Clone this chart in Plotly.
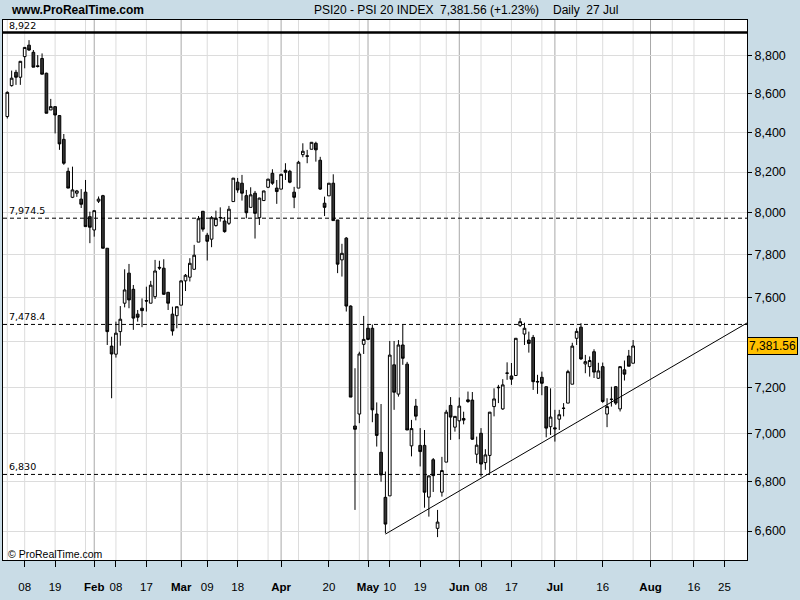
import math
import pandas as pd
import plotly.graph_objects as go

# ---------------- data ----------------
holidays = ["2010-04-02", "2010-04-05"]
calendar = [d.strftime("%Y-%m-%d") for d in pd.bdate_range("2010-01-04", "2010-08-31")
            if d.strftime("%Y-%m-%d") not in holidays]
session_dates = calendar[:145]

open_ = [8480, 8640, 8710, 8684, 8793, 8854, 8816, 8744, 8783, 8705,
         8514, 8531, 8485, 8364, 8204, 8076, 8096, 8067, 8101, 7982,
         7918, 8057, 8084, 7831, 7381, 7345, 7446, 7575, 7714, 7639,
         7525, 7552, 7587, 7575, 7605, 7741, 7737, 7625, 7525, 7518,
         7566, 7678, 7695, 7732, 7860, 8008, 7893, 7874, 7939, 7977,
         7961, 7950, 8055, 8150, 8145, 8084, 8027, 8096, 7977, 8060,
         8125, 8194, 8121, 8116, 8209, 8204, 8101, 8121, 8287, 8281,
         8314, 8344, 8259, 8047, 8083, 8145, 7966, 7776, 7879, 7562,
         7033, 7084, 7389, 7461, 7461, 7084, 6922, 6736, 6742, 7298,
         7170, 7386, 7301, 6949, 7118, 6951, 6951, 6737, 6891, 6611,
         6757, 6881, 7121, 7028, 7055, 7065, 7145, 7144, 6914, 7002,
         6879, 6909, 7116, 7200, 7106, 7262, 7249, 7251, 7473, 7435,
         7408, 7420, 7225, 7243, 7202, 7030, 7025, 7062, 7108, 7131,
         7213, 7416, 7466, 7302, 7290, 7356, 7239, 7290, 7084, 7148,
         7202, 7106, 7276, 7337, 7305]
high = [8610, 8719, 8723, 8770, 8844, 8881, 8828, 8801, 8810, 8708,
        8571, 8531, 8488, 8391, 8222, 8227, 8112, 8116, 8161, 8006,
        8011, 8080, 8088, 7831, 7423, 7491, 7562, 7732, 7757, 7659,
        7544, 7597, 7651, 7678, 7776, 7772, 7779, 7627, 7559, 7559,
        7680, 7710, 7784, 7847, 7985, 8009, 7904, 7985, 8011, 8027,
        7980, 8034, 8171, 8171, 8186, 8112, 8125, 8107, 8074, 8108,
        8167, 8214, 8161, 8190, 8244, 8211, 8127, 8256, 8344, 8311,
        8350, 8352, 8276, 8079, 8146, 8189, 7966, 7852, 7884, 7565,
        7283, 7356, 7517, 7478, 7478, 7134, 7127, 6842, 7404, 7404,
        7408, 7476, 7311, 7059, 7149, 7024, 7016, 6826, 6898, 6685,
        6903, 7102, 7157, 7075, 7155, 7094, 7181, 7179, 6988, 7024,
        6935, 7093, 7195, 7210, 7235, 7309, 7306, 7417, 7507, 7486,
        7446, 7431, 7254, 7268, 7203, 7195, 7102, 7102, 7131, 7276,
        7396, 7461, 7484, 7342, 7335, 7367, 7307, 7308, 7152, 7202,
        7205, 7291, 7317, 7364, 7408]
low = [8470, 8635, 8644, 8644, 8731, 8824, 8737, 8735, 8700, 8497,
       8514, 8394, 8311, 8236, 8121, 8072, 8078, 8024, 7934, 7855,
       7886, 8048, 7831, 7386, 7152, 7330, 7383, 7556, 7552, 7454,
       7491, 7466, 7537, 7575, 7594, 7729, 7613, 7544, 7428, 7461,
       7566, 7631, 7675, 7729, 7860, 7910, 7773, 7836, 7934, 7958,
       7905, 7942, 8055, 8098, 8060, 7974, 8027, 7877, 7942, 8058,
       8121, 8137, 8044, 8116, 8161, 8145, 8023, 8121, 8274, 8244,
       8314, 8252, 8112, 7985, 8083, 7963, 7714, 7698, 7537, 7157,
       6685, 7045, 7346, 7408, 7049, 6946, 6800, 6591, 6742, 7102,
       7159, 7298, 7016, 6905, 7057, 6863, 6694, 6658, 6758, 6576,
       6739, 6881, 6974, 7009, 6977, 7040, 7132, 6974, 6877, 6821,
       6849, 6835, 7074, 7131, 7102, 7232, 7210, 7251, 7467, 7386,
       7352, 7188, 7171, 7165, 6985, 6995, 6967, 7016, 7074, 7131,
       7213, 7386, 7320, 7261, 7246, 7240, 7236, 7132, 7028, 7116,
       7123, 7095, 7229, 7294, 7305]
close = [8605, 8679, 8684, 8768, 8842, 8828, 8737, 8741, 8700, 8497,
         8531, 8488, 8341, 8244, 8121, 8112, 8107, 8042, 7934, 7931,
         8011, 8067, 7831, 7446, 7346, 7439, 7502, 7636, 7590, 7507,
         7511, 7541, 7585, 7658, 7724, 7738, 7616, 7575, 7449, 7559,
         7678, 7704, 7760, 7798, 7972, 7922, 7864, 7977, 7974, 7978,
         7910, 8018, 8170, 8112, 8096, 8001, 8088, 7998, 8072, 8107,
         8165, 8145, 8104, 8189, 8199, 8150, 8076, 8249, 8304, 8279,
         8349, 8311, 8116, 8027, 8145, 7963, 7756, 7807, 7562, 7157,
         7019, 7346, 7411, 7411, 7102, 6993, 6828, 6628, 7341, 7178,
         7386, 7327, 7016, 7022, 7075, 6925, 6757, 6824, 6825, 6636,
         6846, 7092, 7071, 7074, 7118, 7058, 7138, 6977, 6952, 6873,
         6911, 7092, 7149, 7198, 7210, 7261, 7235, 7416, 7491, 7461,
         7393, 7224, 7223, 7217, 7024, 7071, 7021, 7081, 7109, 7268,
         7381, 7447, 7324, 7312, 7317, 7266, 7271, 7138, 7116, 7147,
         7131, 7290, 7257, 7292, 7381.56]

tick_dates = ["2010-01-08", "2010-01-19", "2010-02-01", "2010-02-08", "2010-02-17",
              "2010-03-01", "2010-03-09", "2010-03-18", "2010-04-01", "2010-04-20",
              "2010-05-03", "2010-05-10", "2010-05-19", "2010-06-01", "2010-06-08",
              "2010-06-17", "2010-07-01", "2010-07-16", "2010-08-02", "2010-08-16",
              "2010-08-25"]
tick_labels = ["08", "19", "<b>Feb</b>", "08", "17", "<b>Mar</b>", "09", "18",
               "<b>Apr</b>", "20", "<b>May</b>", "10", "19", "<b>Jun</b>", "08",
               "17", "<b>Jul</b>", "16", "<b>Aug</b>", "16", "25"]
month_dates = ["2010-02-01", "2010-03-01", "2010-04-01", "2010-05-03",
               "2010-06-01", "2010-07-01", "2010-08-02"]
minor_grid_dates = ["2010-01-04", "2010-01-28", "2010-03-29", "2010-04-09",
                    "2010-04-29", "2010-05-27", "2010-06-28", "2010-07-08",
                    "2010-07-27", "2010-08-09"]

y_ticks = [6600, 6800, 7000, 7200, 7400, 7600, 7800, 8000, 8200, 8400, 8600, 8800]
# the 7,400 label sits under the last-price box in the reference
y_tick_labels = ["6,600", "6,800", "7,000", "7,200", "", "7,600", "7,800",
                 "8,000", "8,200", "8,400", "8,600", "8,800"]

level_values = [7974.5, 7478.4, 6830]
level_labels = ["7,974.5", "7,478.4", "6,830"]
top_level = 8922
top_label = "8,922"

trend_idx = [87, 170.2]
trend_val = [6588, 7485]

last_price = 7381.56
last_label = "7,381.56"

# ---------------- figure ----------------
pos = {d: i for i, d in enumerate(calendar)}
x_idx = [pos[d] for d in session_dates]
X_MIN, X_MAX = -0.99, 170.2

SANS = "Liberation Sans, Arial, sans-serif"
PLAIN = "DejaVu Sans, Liberation Sans, sans-serif"

fig = go.Figure()
fig.add_trace(go.Candlestick(
    x=x_idx, open=open_, high=high, low=low, close=close,
    increasing=dict(line=dict(color="black", width=1), fillcolor="white"),
    decreasing=dict(line=dict(color="black", width=1), fillcolor="#333333"),
    whiskerwidth=0, showlegend=False, hoverinfo="skip"))

for v in level_values:
    fig.add_trace(go.Scatter(x=[X_MIN, X_MAX], y=[v, v], mode="lines",
                             line=dict(color="black", width=1, dash="4px,3px"),
                             showlegend=False, hoverinfo="skip"))
fig.add_trace(go.Scatter(x=[X_MIN, X_MAX], y=[top_level, top_level], mode="lines",
                         line=dict(color="black", width=2.5),
                         showlegend=False, hoverinfo="skip"))
fig.add_trace(go.Scatter(x=trend_idx, y=trend_val, mode="lines",
                         line=dict(color="black", width=1),
                         showlegend=False, hoverinfo="skip"))

shapes = []
for d in minor_grid_dates + [t for t in tick_dates if t not in month_dates]:
    shapes.append(dict(type="line", xref="x", yref="paper", x0=pos[d], x1=pos[d],
                       y0=0, y1=1, line=dict(color="#dcdcdc", width=1), layer="below"))
for d in month_dates:
    shapes.append(dict(type="line", xref="x", yref="paper", x0=pos[d], x1=pos[d],
                       y0=0, y1=1, line=dict(color="#a8a8a8", width=1), layer="below"))

annotations = []
for v, lab in zip(level_values + [top_level], level_labels + [top_label]):
    annotations.append(dict(xref="paper", yref="y", x=0.005, y=math.log10(v),
                            text=lab, showarrow=False, xanchor="left", yanchor="bottom",
                            font=dict(family=PLAIN, size=9.5, color="black")))
annotations.append(dict(xref="paper", yref="y", x=1.0, y=math.log10(last_price),
                        text=last_label, showarrow=False, xanchor="left", yanchor="middle",
                        xshift=0, bgcolor="#ffc000", bordercolor="black", borderwidth=1,
                        borderpad=1, font=dict(family=SANS, size=12, color="black")))

def px_x(p):
    return (p - 3) / 744.0

def px_y(p):
    return (560 - p) / 540.0

header = [("www.ProRealTime.com", 9, 12, True),
          ("PSI20 - PSI 20 INDEX", 312, 12, False),
          ("7,381.56 (+1.23%)", 438, 12, False),
          ("Daily  27 Jul", 551, 12, False)]
for txt, xp, sz, bold in header:
    annotations.append(dict(xref="paper", yref="paper", x=px_x(xp), y=px_y(10),
                            text=("<b>%s</b>" % txt) if bold else txt, showarrow=False,
                            xanchor="left", yanchor="middle",
                            font=dict(family=SANS, size=sz, color="black")))
annotations.append(dict(xref="paper", yref="paper", x=px_x(6), y=px_y(554),
                        text="© ProRealTime.com", showarrow=False,
                        xanchor="left", yanchor="middle",
                        font=dict(family=SANS, size=10.5, color="black")))

fig.update_layout(
    width=800, height=600,
    margin=dict(l=3, r=53, t=20, b=40, autoexpand=False),
    paper_bgcolor="#c9dce6", plot_bgcolor="white",
    boxgap=0.12,
    shapes=shapes, annotations=annotations,
    xaxis=dict(range=[X_MIN, X_MAX], tickvals=[pos[d] for d in tick_dates],
               ticktext=tick_labels, ticks="outside", ticklen=6, tickcolor="black",
               tickangle=0, automargin=False,
               showgrid=False, zeroline=False, showline=True, linecolor="black",
               mirror=True, rangeslider=dict(visible=False), ticklabelstandoff=10,
               tickfont=dict(family=SANS, size=11.5, color="black")),
    yaxis=dict(type="log", range=[math.log10(6485.6), math.log10(8989.8)], side="right",
               tickvals=y_ticks, ticktext=y_tick_labels, ticks="outside", ticklen=4,
               tickcolor="black", showgrid=True, gridcolor="#dcdcdc", gridwidth=1,
               automargin=False,
               zeroline=False, showline=True, linecolor="black", mirror=True,
               tickfont=dict(family=SANS, size=12.5, color="black")),
    hovermode=False,
)

fig.write_html("out.html",
               config={"displayModeBar": False},
               post_script="document.body.style.margin='0px';"
                           "document.body.style.overflow='hidden';")
